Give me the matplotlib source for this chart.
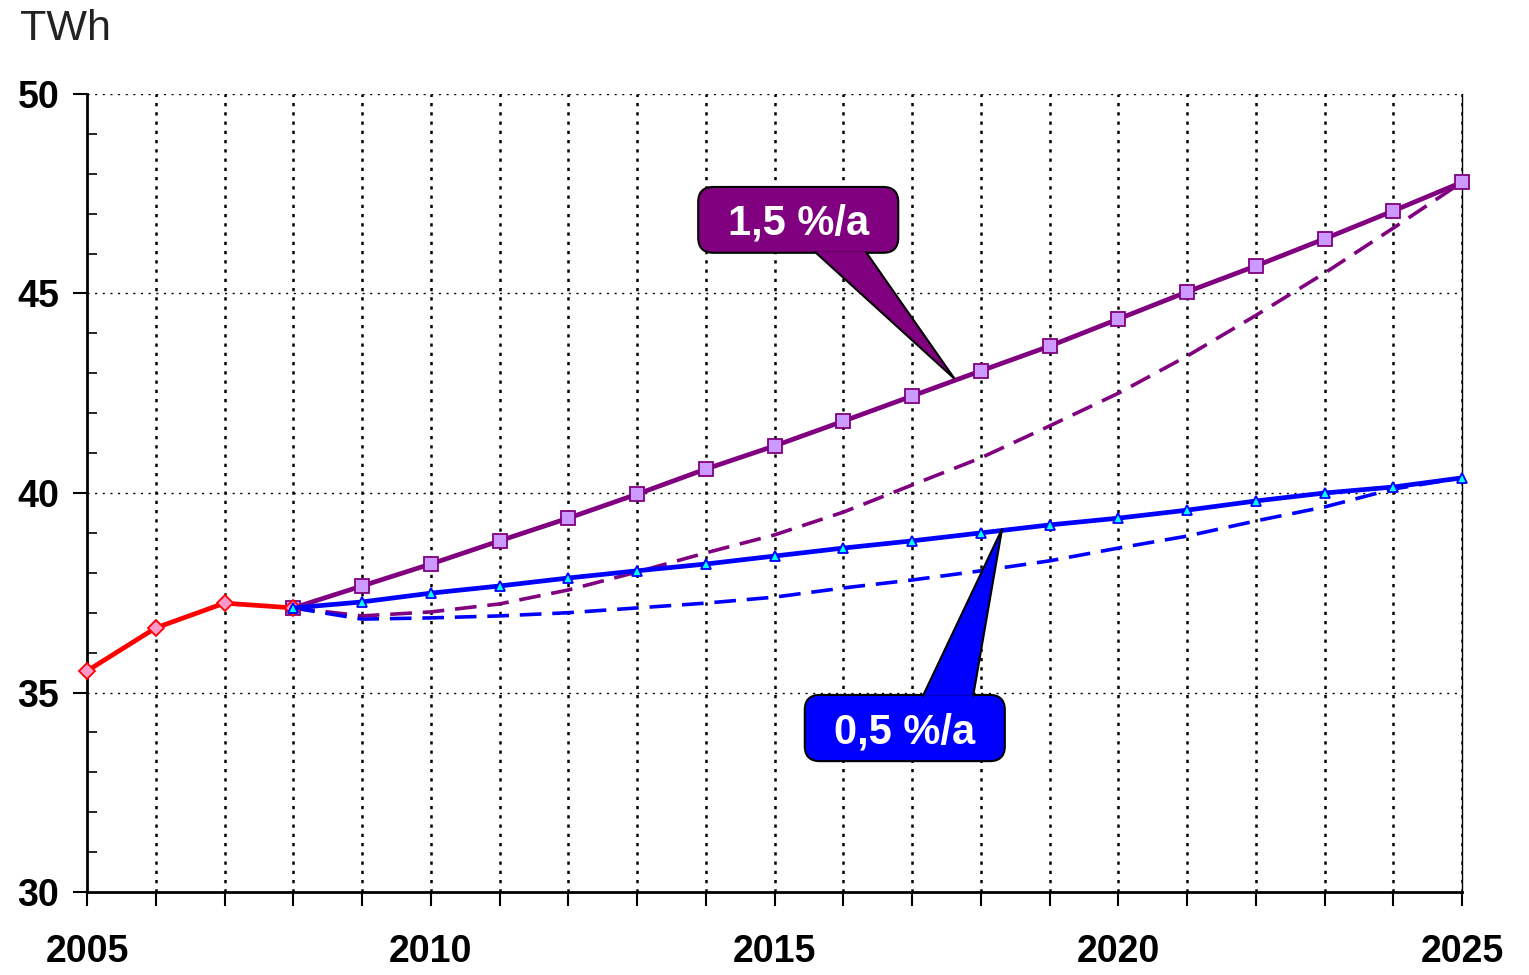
import numpy as np
import matplotlib
matplotlib.use('Agg')
import matplotlib.pyplot as plt
from matplotlib.patches import FancyBboxPatch, Polygon
from matplotlib.ticker import MultipleLocator

plt.rcParams['font.family'] = ['Liberation Sans', 'DejaVu Sans']

# Verbrauch bis 2008 (Ist)
years_hist = [2005, 2006, 2007, 2008]
twh_hist = [35.54, 36.62, 37.24, 37.12]

years_proj = list(range(2008, 2026))
# 1,5 %/a Szenario
twh_15 = [37.12, 37.67, 38.22, 38.80, 39.37, 39.97, 40.60, 41.18, 41.80,
          42.43, 43.06, 43.68, 44.36, 45.04, 45.69, 46.37, 47.07, 47.79]
twh_15_var = [37.12, 36.92, 37.02, 37.22, 37.57, 38.02, 38.50, 38.95, 39.52,
              40.20, 40.88, 41.68, 42.50, 43.43, 44.45, 45.51, 46.64, 47.79]
# 0,5 %/a Szenario
twh_05 = [37.12, 37.27, 37.49, 37.67, 37.87, 38.05, 38.22, 38.42, 38.62,
          38.80, 39.00, 39.20, 39.37, 39.57, 39.80, 40.00, 40.15, 40.38]
twh_05_var = [37.12, 36.84, 36.87, 36.92, 37.00, 37.12, 37.24, 37.39, 37.62,
              37.82, 38.05, 38.30, 38.62, 38.92, 39.30, 39.65, 40.10, 40.38]

PURPLE = '#800080'
BLUE = '#0000FF'
RED = '#FF0000'

fig = plt.figure(figsize=(15.29, 9.75), dpi=100)
ax = fig.add_axes([0.0569, 0.0851, 0.8993, 0.8185])

ax.plot(years_proj, twh_15_var, color=PURPLE, lw=2.6, dashes=(6, 3), zorder=3)
ax.plot(years_proj, twh_05_var, color=BLUE, lw=2.6, dashes=(6, 3), zorder=3)
ax.plot(years_proj, twh_15, color=PURPLE, lw=3.4, marker='s', ms=9.5,
        mfc='#CC99FF', mec=PURPLE, mew=1.3, zorder=4, clip_on=False)
ax.plot(years_proj, twh_05, color=BLUE, lw=3.4, marker='^', ms=7.5,
        mfc='#00FFFF', mec=BLUE, mew=1.3, zorder=5, clip_on=False)
ax.plot(years_hist, twh_hist, color=RED, lw=3.4, marker='D', ms=8,
        mfc='#FF99CC', mec=RED, mew=1.3, zorder=4, clip_on=False)

ax.set_xlim(2005, 2025)
ax.set_ylim(30, 50)

xt = list(range(2005, 2026))
ax.set_xticks(xt)
ax.set_xticklabels([str(y) if y % 5 == 0 else '' for y in xt],
                   fontsize=27, fontweight='bold')
ax.yaxis.set_major_locator(MultipleLocator(5))
ax.yaxis.set_minor_locator(MultipleLocator(1))
for lab in ax.get_yticklabels():
    lab.set_fontsize(27)
    lab.set_fontweight('bold')

ax.tick_params(axis='x', which='major', direction='out', length=10, width=1.5, pad=20)
ax.tick_params(axis='y', which='major', direction='out', length=10, width=1.5, pad=10)
ax.tick_params(axis='y', which='minor', direction='in', length=7, width=1.2)

# Gitter: senkrecht kräftig gepunktet, waagrecht fein
for y in xt[1:]:
    ax.axvline(y, color='black', lw=1.8, ls=(0, (1.3, 2.4)), zorder=1)
for v in [35, 40, 45, 50]:
    ax.axhline(v, color='black', lw=1.0, ls=(0, (1.5, 4)), zorder=1)

ax.spines['top'].set_visible(False)
ax.spines['left'].set_linewidth(2)
ax.spines['bottom'].set_linewidth(2)
ax.spines['right'].set_linewidth(1)

fig.text(0.013, 0.97, 'TWh', fontsize=31, color='#222222', va='center', ha='left')

# Sprechblasen
asp = (1 / 39.9) / (1 / 68.75)


def callout(x0, x1, y0, y1, base, tip, color, text):
    box = FancyBboxPatch((x0, y0), x1 - x0, y1 - y0,
                         boxstyle='round,pad=0,rounding_size=0.22',
                         mutation_aspect=asp, fc=color, ec='black', lw=1.5,
                         zorder=6, clip_on=False)
    ax.add_patch(box)
    tail = Polygon([base[0], tip, base[1]], closed=True, fc=color, ec='none',
                   zorder=7, clip_on=False)
    ax.add_patch(tail)
    ax.plot([base[0][0], tip[0], base[1][0]], [base[0][1], tip[1], base[1][1]],
            color='black', lw=1.5, zorder=8, solid_joinstyle='miter')
    ax.text((x0 + x1) / 2, (y0 + y1) / 2 - 0.1, text, color='white', fontsize=30,
            fontweight='bold', ha='center', va='center', zorder=9)


callout(2013.89, 2016.80, 46.02, 47.67,
        [(2015.59, 46.04), (2016.33, 46.04)], (2017.62, 42.86), PURPLE, '1,5 %/a')
callout(2015.44, 2018.35, 33.28, 34.94,
        [(2017.16, 34.92), (2017.89, 34.92)], (2018.31, 39.10), BLUE, '0,5 %/a')

fig.savefig('out.png', dpi=100)
